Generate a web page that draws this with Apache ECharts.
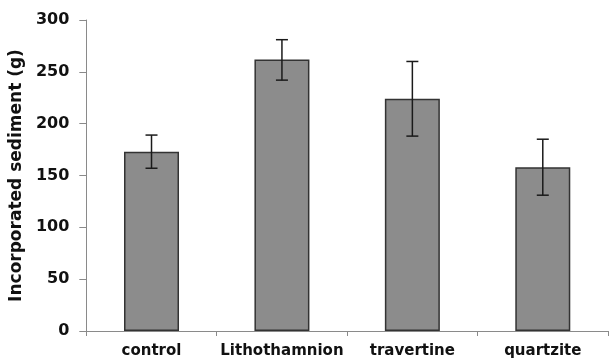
<!DOCTYPE html>
<html>
<head>
<meta charset="utf-8">
<script src="https://cdn.jsdelivr.net/npm/echarts@6/dist/echarts.min.js"></script>
<style>
html,body{margin:0;padding:0;background:#fff;}
#c{width:609px;height:363px;}
</style>
</head>
<body>
<div id="c"></div>
<script>
var categories = ['control', 'Lithothamnion', 'travertine', 'quartzite'];
var means = [173, 262, 224, 158];
var errUpper = [189, 281, 260, 185];
var errLower = [157, 242, 188, 131];
var yTicks = [0, 50, 100, 150, 200, 250, 300];

var FONT = 'DejaVu Sans';
var chart = echarts.init(document.getElementById('c'));
var errData = categories.map(function (c, i) { return [i, errLower[i], errUpper[i]]; });

chart.setOption({
  animation: false,
  backgroundColor: '#fff',
  grid: { left: 85, right: 1, top: 20, bottom: 32, containLabel: false },
  xAxis: {
    type: 'category',
    data: categories,
    boundaryGap: true,
    axisLine: { show: true, lineStyle: { color: '#8a8a8a', width: 1 } },
    axisTick: { show: true, length: 5, alignWithLabel: false, lineStyle: { color: '#8a8a8a' } },
    axisLabel: { interval: 0, hideOverlap: false, color: '#111', fontFamily: FONT, fontWeight: 'bold', fontSize: 15, margin: 13 }
  },
  yAxis: {
    type: 'value',
    min: yTicks[0],
    max: yTicks[yTicks.length - 1],
    interval: 50,
    name: 'Incorporated sediment (g)',
    nameLocation: 'middle',
    nameGap: 59,
    nameTextStyle: { color: '#111', fontFamily: FONT, fontWeight: 'bold', fontSize: 17 },
    splitLine: { show: false },
    axisLine: { show: true, lineStyle: { color: '#8a8a8a', width: 1 } },
    axisTick: { show: true, length: 7, lineStyle: { color: '#8a8a8a' } },
    axisLabel: { color: '#111', fontFamily: FONT, fontWeight: 'bold', fontSize: 16, margin: 17 }
  },
  series: [
    {
      type: 'bar',
      data: means,
      barWidth: 55,
      itemStyle: { color: '#8c8c8c', borderColor: '#333333', borderWidth: 1.5 }
    },
    {
      type: 'custom',
      data: errData,
      z: 10,
      renderItem: function (params, api) {
        var x = api.value(0);
        var lo = api.coord([x, api.value(1)]);
        var hi = api.coord([x, api.value(2)]);
        var hw = 6;
        var st = { stroke: '#1a1a1a', lineWidth: 1.5 };
        return {
          type: 'group',
          children: [
            { type: 'line', shape: { x1: hi[0], y1: hi[1], x2: lo[0], y2: lo[1] }, style: st },
            { type: 'line', shape: { x1: hi[0] - hw, y1: hi[1], x2: hi[0] + hw, y2: hi[1] }, style: st },
            { type: 'line', shape: { x1: lo[0] - hw, y1: lo[1], x2: lo[0] + hw, y2: lo[1] }, style: st }
          ]
        };
      }
    }
  ]
});
</script>
</body>
</html>
